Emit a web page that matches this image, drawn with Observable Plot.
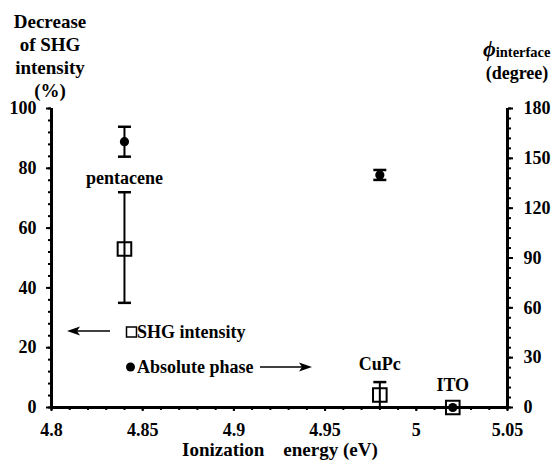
<!DOCTYPE html>
<html>
<head>
<meta charset="utf-8">
<script src="https://cdn.jsdelivr.net/npm/d3@7"></script>
<script src="https://cdn.jsdelivr.net/npm/@observablehq/plot@0.6"></script>
<style>
  html, body { margin: 0; padding: 0; background: #fff; }
  #wrap { position: relative; width: 559px; height: 469px; }
  #wrap > svg { position: absolute; left: 0; top: 0; }
  #overlay { pointer-events: none; font-family: "Liberation Serif", "Times New Roman", serif; font-weight: bold; }
</style>
</head>
<body>
<div id="wrap"></div>
<script>
// ---- data ----
const materials = ["pentacene", "CuPc", "ITO"];
const ionization = [4.84, 4.98, 5.02];          // eV
const shg = [53, 4.2, 0];                         // decrease of SHG intensity (%)
const shgLow = [35, 0, 0];
const shgHigh = [72, 8.5, 0];
const phase = [160, 140, 0];                      // phi_interface (degree)
const phaseLow = [151, 137, 0];
const phaseHigh = [169, 143, 0];

const xTicks = [4.8, 4.85, 4.9, 4.95, 5, 5.05];
const yTicks = [0, 20, 40, 60, 80, 100];
const phaseTicks = [0, 30, 60, 90, 120, 150, 180];

// ---- presentation ----
const phaseMax = 180, pctMax = 100;
const toLeft = d => d * pctMax / phaseMax;
const labelDy = [-14, -18, -22];

const rows = materials.map((m, i) => ({
  name: m, x: ionization[i],
  shg: shg[i], shgLo: shgLow[i], shgHi: shgHigh[i],
  ph: toLeft(phase[i]), phLo: toLeft(phaseLow[i]), phHi: toLeft(phaseHigh[i])
}));
const phaseErr = rows.filter(d => d.phHi > d.phLo);
const shgErr = rows.filter(d => d.shgHi > d.shgLo);

const squareSym = { draw(ctx, size) { const h = Math.sqrt(size / Math.PI); ctx.rect(-h, -h, 2 * h, 2 * h); } };
const capSym = { draw(ctx, size) { const h = Math.sqrt(size / Math.PI); ctx.moveTo(-h, 0); ctx.lineTo(h, 0); } };

const xMinor = d3.range(4.8, 5.0501, 0.01);
const yMinor = d3.range(0, 100.01, 4);
const phMinor = d3.range(0, 180.01, 6).map(toLeft);

const chart = Plot.plot({
  width: 559, height: 469,
  marginLeft: 51, marginRight: 52, marginTop: 108, marginBottom: 62,
  style: { fontFamily: "Liberation Serif, Times New Roman, serif", fontSize: "18px", fontWeight: "bold", color: "black", background: "white" },
  x: { domain: [4.8, 5.05], axis: null },
  y: { domain: [0, 100], axis: null },
  marks: [
    // axes: minor ticks
    Plot.axisX({ ticks: xMinor, tickSize: 3, text: null, label: null, strokeWidth: 2 }),
    Plot.axisY({ anchor: "left", ticks: yMinor, tickSize: 3, text: null, label: null, strokeWidth: 2 }),
    Plot.axisY({ anchor: "right", ticks: phMinor, tickSize: 3, text: null, label: null, strokeWidth: 2 }),
    // major ticks + labels
    Plot.axisX({ ticks: xTicks, tickSize: 4, tickPadding: 12, strokeWidth: 2, label: null, tickFormat: d => String(+d.toFixed(2)) }),
    Plot.axisY({ anchor: "left", ticks: yTicks, tickSize: 5, tickPadding: 10, strokeWidth: 2, label: null }),
    Plot.axisY({ anchor: "right", ticks: phaseTicks.map(toLeft), tickSize: 5, tickPadding: 11, strokeWidth: 2, label: null,
      tickFormat: d => String(Math.round(d * phaseMax / pctMax)) }),
    // axis lines
    Plot.ruleX([4.8], { stroke: "black", strokeWidth: 3 }),
    Plot.ruleX([5.05], { stroke: "black", strokeWidth: 3 }),
    Plot.ruleY([0], { stroke: "black", strokeWidth: 3 }),
    // SHG intensity error bars
    Plot.ruleX(shgErr, { x: "x", y1: "shgLo", y2: "shgHi", stroke: "black", strokeWidth: 2 }),
    Plot.dot(shgErr, { x: "x", y: "shgLo", symbol: capSym, r: 6.5, stroke: "black", fill: "none", strokeWidth: 2.5 }),
    Plot.dot(shgErr, { x: "x", y: "shgHi", symbol: capSym, r: 6.5, stroke: "black", fill: "none", strokeWidth: 2.5 }),
    // phase error bars
    Plot.ruleX(phaseErr, { x: "x", y1: "phLo", y2: "phHi", stroke: "black", strokeWidth: 2 }),
    Plot.dot(phaseErr, { x: "x", y: "phLo", symbol: capSym, r: 6.5, stroke: "black", fill: "none", strokeWidth: 2.5 }),
    Plot.dot(phaseErr, { x: "x", y: "phHi", symbol: capSym, r: 6.5, stroke: "black", fill: "none", strokeWidth: 2.5 }),
    // markers
    Plot.dot(rows, { x: "x", y: "shg", symbol: squareSym, r: 6.8, stroke: "black", fill: "none", strokeWidth: 2 }),
    Plot.dot(rows, { x: "x", y: "ph", r: 4.6, fill: "black", stroke: "none" }),
    // material labels (one mark per label so each gets its own offset)
    ...rows.map((r, i) => Plot.text([r], { x: "x", y: "shgHi", text: "name", dy: labelDy[i], fontSize: 18, fontWeight: "bold", fill: "black" }))
  ]
});
document.getElementById("wrap").appendChild(chart);

// ---- overlay: titles and legend ----
const ns = "http://www.w3.org/2000/svg";
const ov = document.createElementNS(ns, "svg");
ov.setAttribute("id", "overlay");
ov.setAttribute("width", 559); ov.setAttribute("height", 469);
ov.innerHTML = `
  <g font-size="19" text-anchor="middle">
    <text x="50" y="28">Decrease</text>
    <text x="50" y="51">of SHG</text>
    <text x="50" y="74">intensity</text>
    <text x="50" y="97">(%)</text>
  </g>
  <text x="483" y="56"><tspan font-style="italic" font-size="22">ϕ</tspan><tspan font-size="14.5" dy="1">interface</tspan></text>
  <text x="517" y="79" font-size="18" text-anchor="middle">(degree)</text>
  <text x="182" y="456" font-size="19" xml:space="preserve">Ionization    energy (eV)</text>
  <line x1="72" y1="331" x2="110" y2="331" stroke="black" stroke-width="1.5"/>
  <path d="M67,331 L80,326.5 L77,331 L80,335.5 Z" fill="black"/>
  <rect x="126.5" y="327" width="10" height="10" fill="none" stroke="black" stroke-width="1.5"/>
  <text x="137" y="338" font-size="18">SHG intensity</text>
  <circle cx="130.5" cy="367" r="4.5" fill="black"/>
  <text x="137" y="373" font-size="18">Absolute phase</text>
  <line x1="260" y1="367" x2="307" y2="367" stroke="black" stroke-width="1.5"/>
  <path d="M312,367 L299,362.5 L302,367 L299,371.5 Z" fill="black"/>
`;
document.getElementById("wrap").appendChild(ov);
</script>
</body>
</html>
